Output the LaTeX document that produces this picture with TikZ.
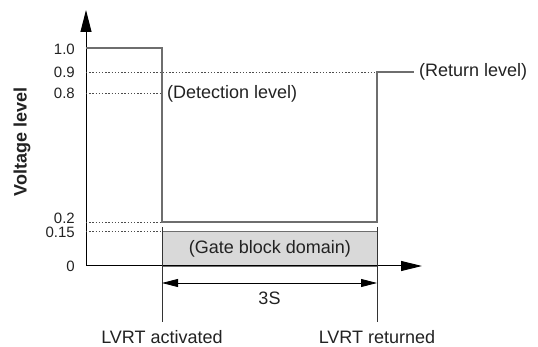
\documentclass[tikz,border=0pt]{standalone}
\usepackage{fontspec}
\setmainfont{Liberation Sans}
\usetikzlibrary{arrows.meta}
\definecolor{sig}{HTML}{6E6E6E}
\definecolor{boxfill}{HTML}{D9D9D9}
\definecolor{txt}{HTML}{222222}
\begin{document}
\begin{tikzpicture}[x=1pt,y=-1pt,
  tick/.style={anchor=east,inner sep=0pt,font=\fontsize{15}{15}\selectfont,text=txt},
  lbl/.style={inner sep=0pt,font=\fontsize{18}{18}\selectfont,text=txt},
  guide/.style={dash pattern=on 1.3pt off 1.9pt,line width=0.8pt,black!70},
  axis/.style={line width=1pt,black},
  signal/.style={line width=2.8pt,sig},
  marker/.style={line width=0.7pt,black!80}]
\useasboundingbox (0,0) rectangle (538,347);

% axes
\coordinate (o) at (86,266);
\coordinate (ytop) at (86,10);
\coordinate (xend) at (422,266);

% gate block domain
\node (gate) [draw=sig,line width=0.8pt,fill=boxfill,minimum width=215pt,minimum height=35pt,anchor=north west,inner sep=0pt] at (162,231) {};
\node [lbl] at (gate.center) {(Gate block domain)};

\draw[axis,-{Triangle[length=22pt,width=11pt]}] (o) -- (ytop);
\draw[axis,-{Triangle[length=21pt,width=10pt]}] (o) -- (xend);

% level guides
\coordinate (g09a) at (86,72);  \coordinate (g09b) at (377,72);
\coordinate (g08a) at (86,93);  \coordinate (g08b) at (160,93);
\coordinate (g02a) at (86,222); \coordinate (g02b) at (160,222);
\coordinate (g15a) at (86,231); \coordinate (g15b) at (160,231);
\draw[guide] (g09a) -- (g09b);
\draw[guide] (g08a) -- (g08b);
\draw[guide] (g02a) -- (g02b);
\draw[guide] (g15a) -- (g15b);

% voltage trace
\coordinate (s0) at (86,48);
\coordinate (s1) at (162,48);
\coordinate (s2) at (162,222);
\coordinate (s3) at (377,222);
\coordinate (s4) at (377,72);
\coordinate (s5) at (414,72);
\draw[signal,line join=miter] (s0) -- (s1) -- (s2) -- (s3) -- (s4) -- (s5);

% time markers
\coordinate (m1t) at (162,227); \coordinate (m1b) at (162,322);
\coordinate (m2t) at (377,227); \coordinate (m2b) at (377,322);
\draw[marker] (m1t) -- (m1b);
\draw[marker] (m2t) -- (m2b);
\coordinate (d1) at (162,283); \coordinate (d2) at (377,283);
\draw[line width=0.8pt,{Triangle[length=16pt,width=8pt]}-{Triangle[length=16pt,width=8pt]}] (d1) -- (d2);
\node (dur) [lbl] at (269.5,298) {3S};

% tick labels
\node (t10) [tick] at (75,49) {1.0};
\node (t09) [tick] at (75,72) {0.9};
\node (t08) [tick] at (75,93) {0.8};
\node (t02) [tick] at (75,218) {0.2};
\node (t15) [tick] at (75,232) {0.15};
\node (t00) [tick] at (75,266) {0};

% labels
\node (ylab) [lbl,font=\fontsize{18}{18}\selectfont\bfseries,rotate=90] at (22,142) {Voltage level};
\node (det) [lbl,anchor=west] at (167,94) {(Detection level)};
\node (ret) [lbl,anchor=west] at (419,72) {(Return level)};
\node (act) [lbl] at (162,337) {LVRT activated};
\node (rtn) [lbl] at (377,337) {LVRT returned};
\end{tikzpicture}
\end{document}
